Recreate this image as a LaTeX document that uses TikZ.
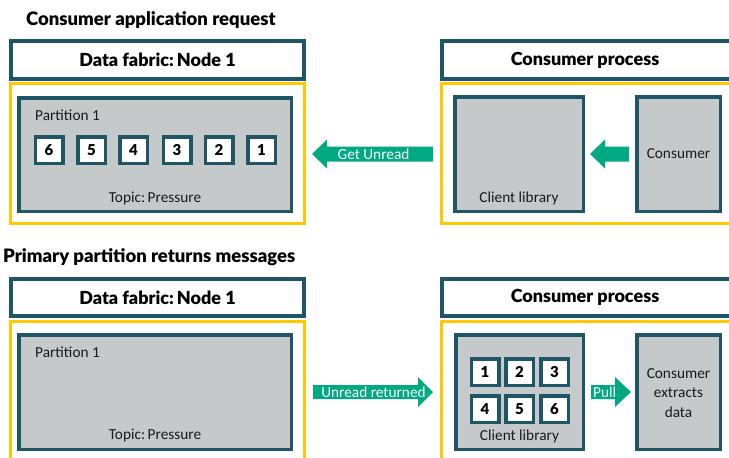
\documentclass[tikz,border=0pt]{standalone}
\usepackage{fontspec}
\setmainfont{Carlito}
\newfontfamily\headfont{Lato}[BoldFont={Lato Black}]
\definecolor{teal}{RGB}{30,86,102}
\definecolor{panelgray}{RGB}{198,201,202}
\definecolor{hpegreen}{RGB}{1,169,130}
\definecolor{hpeyellow}{RGB}{255,200,0}
\tikzset{
  title/.style={font=\headfont\bfseries\fontsize{18.5}{21}\selectfont, anchor=west, inner sep=0pt},
  header/.style={draw=teal, line width=4pt, fill=white, inner sep=0pt,
                 font=\headfont\bfseries\fontsize{18}{20}\selectfont},
  frame/.style={draw=hpeyellow, line width=3pt, inner sep=0pt},
  panel/.style={draw=teal, line width=3.5pt, fill=panelgray, inner sep=0pt},
  msg/.style={draw=teal, line width=3.5pt, fill=white, inner sep=0pt,
              minimum width=27.5pt, minimum height=26.5pt,
              font=\headfont\bfseries\fontsize{15}{17}\selectfont},
  lbl/.style={inner sep=0pt, font=\fontsize{15.3}{17}\selectfont, text=black!90},
  arrowtext/.style={inner sep=0pt, text=white, font=\fontsize{15.3}{17}\selectfont},
}
\begin{document}
\begin{tikzpicture}[x=1pt, y=-1pt]
\useasboundingbox (0,0) rectangle (729,458);
\clip (0,0) rectangle (729,458);

% ---------- upper scenario: consumer application request ----------
\node[title] (t1) at (26,20) {Consumer application request};

\node[header, minimum width=293pt, minimum height=38pt] (hdrA) at (157.5,60) {Data fabric:\,Node 1};
\node[frame, minimum width=294pt, minimum height=140pt] (yelA) at (157.5,153.5) {};
\node[panel, minimum width=272.5pt, minimum height=113.5pt] (partA) at (155,154.5) {};
\node[lbl, anchor=west] (partAname) at (35,115) {Partition 1};
\node[lbl] (partAtopic) at (155,198) {Topic:\,Pressure};
\foreach \n/\x in {6/49, 5/91.5, 4/133.5, 3/177, 2/219, 1/261.5}
  \node[msg] (ma\n) at (\x,150) {\n};

\node[header, minimum width=290pt, minimum height=38pt] (hdrB) at (587,60) {\hspace*{-4pt}Consumer process};
\node[frame, minimum width=291pt, minimum height=140pt] (yelB) at (587,153.5) {};
\node[panel, minimum width=128.5pt, minimum height=114.5pt] (clientA) at (519,154) {};
\node[lbl] (clientAname) at (519,198) {Client library};
\node[panel, minimum width=83.5pt, minimum height=114.5pt] (consA) at (678.5,154) {};
\node[lbl] (consAname) at (consA.center) {Consumer};

% block arrows of the request
\fill[hpegreen] (433,146.5) -- (327,146.5) -- (327,139.5) -- (312,154)
  -- (327,168.5) -- (327,161.5) -- (433,161.5) -- cycle;
\node[arrowtext] (getunread) at (373.5,154) {Get Unread};
\fill[hpegreen] (629,146.5) -- (605,146.5) -- (605,139.5) -- (590,154)
  -- (605,168.5) -- (605,161.5) -- (629,161.5) -- cycle;

% ---------- lower scenario: primary partition returns messages ----------
\node[title] (t2) at (3,257) {Primary partition returns messages};

\node[header, minimum width=293pt, minimum height=37pt] (hdrC) at (157.5,297.5) {Data fabric:\,Node 1};
\node[frame, minimum width=294pt, minimum height=160pt] (yelC) at (157.5,401.5) {};
\node[panel, minimum width=272.5pt, minimum height=114.5pt] (partC) at (155,392) {};
\node[lbl, anchor=west] (partCname) at (35,352) {Partition 1};
\node[lbl] (partCtopic) at (155,435) {Topic:\,Pressure};

\node[header, minimum width=290pt, minimum height=37pt] (hdrD) at (587,297.5) {\hspace*{-4pt}Consumer process};
\node[frame, minimum width=291pt, minimum height=160pt] (yelD) at (587,401.5) {};
\node[panel, minimum width=127.5pt, minimum height=114.5pt] (clientB) at (519.5,392) {};
\node[lbl] (clientBname) at (519.5,436) {Client library};
\foreach \n/\x/\y in {1/485/372, 2/519.5/372, 3/554.5/372, 4/485/409, 5/519.5/409, 6/554.5/409}
  \node[msg] (mb\n) at (\x,\y) {\n};
\node[panel, minimum width=83.5pt, minimum height=114.5pt] (consB) at (678.5,392) {};
\node[lbl, align=center, font=\fontsize{15.3}{19.5}\selectfont] (consBname) at (678.5,393) {Consumer\\extracts\\data};

% block arrows of the reply
\fill[hpegreen] (313,385) -- (418,385) -- (418,377) -- (433,392)
  -- (418,407) -- (418,399) -- (313,399) -- cycle;
\node[arrowtext] (unread) at (373.5,392) {Unread returned};
\fill[hpegreen] (591,385) -- (615,385) -- (615,377) -- (631,392)
  -- (615,407) -- (615,399) -- (591,399) -- cycle;
\node[arrowtext, anchor=west] (pull) at (593,392) {Pull};
\end{tikzpicture}
\end{document}
